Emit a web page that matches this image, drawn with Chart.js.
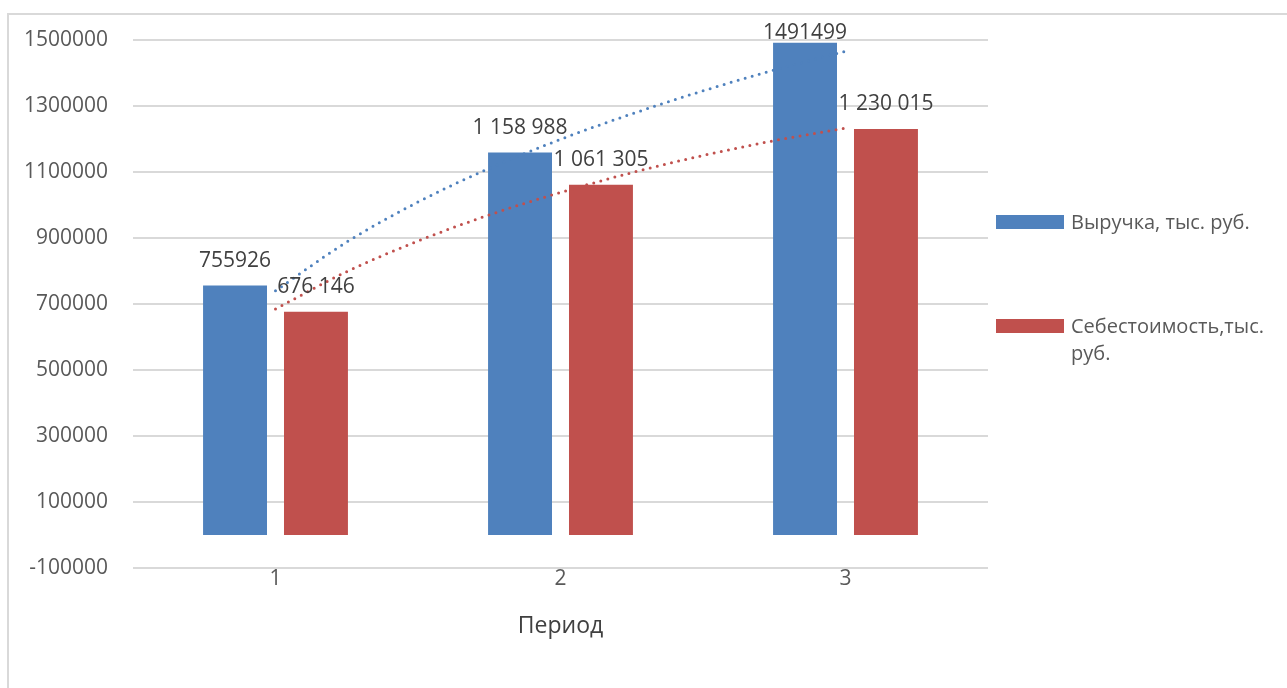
<!DOCTYPE html>
<html lang="ru">
<head>
<meta charset="utf-8">
<title>Выручка и себестоимость по периодам</title>
<script src="https://cdn.jsdelivr.net/npm/chart.js@4.4.1/dist/chart.umd.min.js"></script>
<style>
    body { margin: 0; background: #fff; }
</style>
</head>
<body>
<canvas id="chart" width="1287" height="688"></canvas>
<script>
// Данные
const periods = ['1', '2', '3'];
const seriesNames = ['Выручка, тыс. руб.', 'Себестоимость,тыс. руб.'];
const revenue = [755926, 1158988, 1491499];
const cost = [676146, 1061305, 1230015];
const revenueLabels = ['755926', '1 158 988', '1491499'];
const costLabels = ['676 146', '1 061 305', '1 230 015'];
const yTicks = [-100000, 100000, 300000, 500000, 700000, 900000, 1100000, 1300000, 1500000];

// Линии тренда (пунктир), значения по периоду
const trendX = [1, 1.25, 1.5, 1.75, 2, 2.25, 2.5, 2.75, 3];
const revenueTrend = [740000, 888000, 1009000, 1111000, 1199000, 1276000, 1346000, 1409000, 1466000];
const costTrend = [685000, 798000, 891000, 970000, 1038000, 1098000, 1150000, 1195000, 1233000];

const BLUE = '#4f81bd';
const RED = '#c0504d';
const FONT = '"Open Sans", sans-serif';

// Рамка вокруг диаграммы
const framePlugin = {
    id: 'frame',
    beforeDraw(chart) {
        const ctx = chart.ctx;
        ctx.save();
        ctx.strokeStyle = '#d9d9d9';
        ctx.lineWidth = 2;
        ctx.strokeRect(8, 14, 1400, 800);
        ctx.restore();
    }
};

// Легенда справа, с переносом длинных подписей
const legendPlugin = {
    id: 'sideLegend',
    afterDraw(chart) {
        const ctx = chart.ctx;
        const left = chart.chartArea.right + 8;
        const tops = [222, 326];
        const colors = [BLUE, RED];
        ctx.save();
        ctx.font = `20px ${FONT}`;
        ctx.textBaseline = 'middle';
        seriesNames.forEach((name, i) => {
            const y = tops[i];
            ctx.fillStyle = colors[i];
            ctx.fillRect(left, y - 7, 68, 14);
            ctx.fillStyle = '#595959';
            const lines = [];
            let line = '';
            name.split(' ').forEach(word => {
                const test = line ? line + ' ' + word : word;
                if (line && ctx.measureText(test).width > 205) {
                    lines.push(line);
                    line = word;
                } else {
                    line = test;
                }
            });
            lines.push(line);
            lines.forEach((l, k) => ctx.fillText(l, left + 75, y + 1 + k * 27));
        });
        ctx.restore();
    }
};

// Подписи значений над столбцами
const barLabels = [revenueLabels, costLabels];
const valueLabelsPlugin = {
    id: 'valueLabels',
    afterDatasetsDraw(chart) {
        const ctx = chart.ctx;
        ctx.save();
        ctx.font = `21px ${FONT}`;
        ctx.fillStyle = '#404040';
        ctx.textAlign = 'center';
        ctx.textBaseline = 'middle';
        [0, 1].forEach(di => {
            chart.getDatasetMeta(di).data.forEach((bar, i) => {
                const y = Math.max(bar.y - 25, 33);
                ctx.fillText(barLabels[di][i], bar.x, y);
            });
        });
        ctx.restore();
    }
};

// Периоды на числовой оси: 1, 2, 3
const barPoints = vals => vals.map((v, i) => ({ x: i + 1, y: v }));
const trendPoints = vals => trendX.map((x, i) => ({ x: x, y: vals[i] }));

const trendStyle = {
    type: 'line',
    borderWidth: 3,
    borderDash: [0, 7.3],
    borderCapStyle: 'round',
    pointRadius: 0,
    fill: false,
    cubicInterpolationMode: 'monotone',
    order: 1
};

new Chart(document.getElementById('chart'), {
    type: 'bar',
    data: {
        datasets: [
            { label: seriesNames[0], data: barPoints(revenue), backgroundColor: BLUE, order: 2 },
            { label: seriesNames[1], data: barPoints(cost), backgroundColor: RED, order: 2 },
            { ...trendStyle, label: 'trend1', data: trendPoints(revenueTrend), borderColor: BLUE },
            { ...trendStyle, label: 'trend2', data: trendPoints(costTrend), borderColor: RED }
        ]
    },
    options: {
        responsive: false,
        animation: false,
        events: [],
        layout: { padding: { top: 40, left: 0, right: 299, bottom: 0 } },
        categoryPercentage: 0.568,
        barPercentage: 0.79,
        plugins: {
            legend: { display: false },
            tooltip: { enabled: false }
        },
        scales: {
            x: {
                type: 'linear',
                min: 0.5,
                max: 3.5,
                offset: false,
                afterBuildTicks(scale) { scale.ticks = periods.map((p, i) => ({ value: i + 1 })); },
                grid: { display: false },
                border: { display: false },
                ticks: {
                    color: '#595959',
                    font: { family: FONT, size: 21 },
                    padding: -10,
                    callback: v => periods[v - 1]
                },
                title: {
                    display: true,
                    text: 'Период',
                    color: '#404040',
                    font: { family: FONT, size: 23 },
                    padding: { top: 0, bottom: 48 }
                },
                afterFit(scale) { scale.height = 120; }
            },
            y: {
                min: -100000,
                max: 1500000,
                afterBuildTicks(scale) { scale.ticks = yTicks.map(v => ({ value: v })); },
                grid: { color: '#d9d9d9', lineWidth: 2, drawTicks: false },
                border: { display: false },
                ticks: {
                    color: '#595959',
                    font: { family: FONT, size: 21 },
                    padding: 25,
                    callback: v => String(v)
                },
                afterFit(scale) { scale.width = 133; }
            }
        }
    },
    plugins: [framePlugin, valueLabelsPlugin, legendPlugin]
});
</script>
</body>
</html>
